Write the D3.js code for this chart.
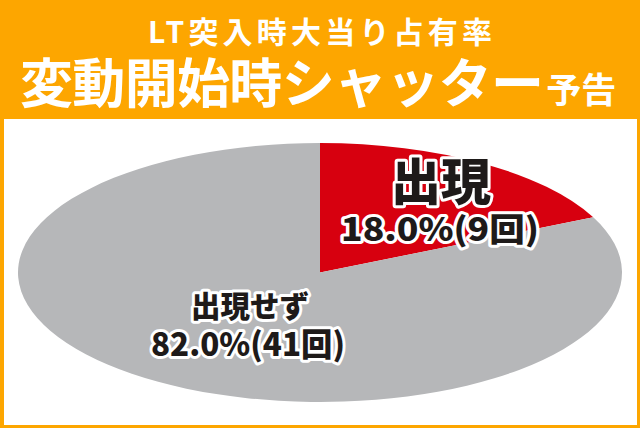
<!DOCTYPE html>
<html lang="ja">
<head>
<meta charset="utf-8">
<script src="https://d3js.org/d3.v7.min.js"></script>
<style>
  body { margin:0; background:#fff; }
  svg text { font-family:"Noto Sans CJK JP", "Noto Sans", sans-serif; }
</style>
</head>
<body>
<script>
// chart data
var categories = ["出現", "出現せず"];
var percents = [18.0, 82.0];
var counts = [9, 41];
var colors = ["#d7000f", "#b6b7b9"];

var w = 640, h = 428;
var orange = "#fda600";

var svg = d3.select("body").append("svg")
  .attr("width", w).attr("height", h);

// frame
svg.append("rect").attr("width", w).attr("height", h).attr("fill", orange);
svg.append("rect")
  .attr("x", 4).attr("y", 119)
  .attr("width", 633).attr("height", 306)
  .attr("fill", "#fff");

// titles
svg.append("text")
  .attr("x", 148).attr("y", 43)
  .attr("textLength", 344).attr("lengthAdjust", "spacing")
  .attr("fill", "#fff").attr("font-size", 30).attr("font-weight", 700)
  .text("LT突入時大当り占有率");

var t2 = svg.append("text")
  .attr("x", 20).attr("y", 103)
  .attr("fill", "#fff").attr("font-weight", 700);
t2.append("tspan").attr("font-size", 53)
  .attr("textLength", 524).attr("lengthAdjust", "spacing")
  .text("変動開始時シャッター");
t2.append("tspan").attr("font-size", 35).attr("dx", 3)
  .text("予告");

// pie, squashed into an ellipse
var cx = 320, cy = 272.5, rx = 302, ry = 129.5;
var pie = d3.pie().sort(null).value(function(d){ return d; });
var arc = d3.arc().innerRadius(0).outerRadius(rx);
var arcs = pie(percents);

var g = svg.append("g")
  .attr("transform", "translate(" + cx + "," + cy + ") scale(1," + (ry / rx) + ")");
g.selectAll("path").data(arcs).enter().append("path")
  .attr("d", arc)
  .attr("fill", function(d, i){ return colors[i]; });

// labels
var labelPos = [
  { x1: 441, x2: 440, y1: 200, y2: 241, s1: 50, s2: 32, len1: 0, len2: 198 },
  { x1: 250, x2: 248, y1: 317, y2: 356, s1: 30, s2: 32, len1: 118, len2: 194 }
];

function outlined(x, y, size, str, len) {
  var t = svg.append("text")
    .attr("x", x).attr("y", y)
    .attr("text-anchor", "middle")
    .attr("font-size", size).attr("font-weight", 900)
    .attr("fill", "#1e1a19")
    .attr("stroke", "#fff").attr("stroke-width", 6)
    .attr("stroke-linejoin", "round")
    .attr("paint-order", "stroke")
    .text(str);
  if (len) t.attr("textLength", len).attr("lengthAdjust", "spacingAndGlyphs");
}

categories.forEach(function(c, i){
  var p = labelPos[i];
  outlined(p.x1, p.y1, p.s1, c, p.len1);
  outlined(p.x2, p.y2, p.s2, d3.format(".1f")(percents[i]) + "%(" + counts[i] + "回)", p.len2);
});
</script>
</body>
</html>
